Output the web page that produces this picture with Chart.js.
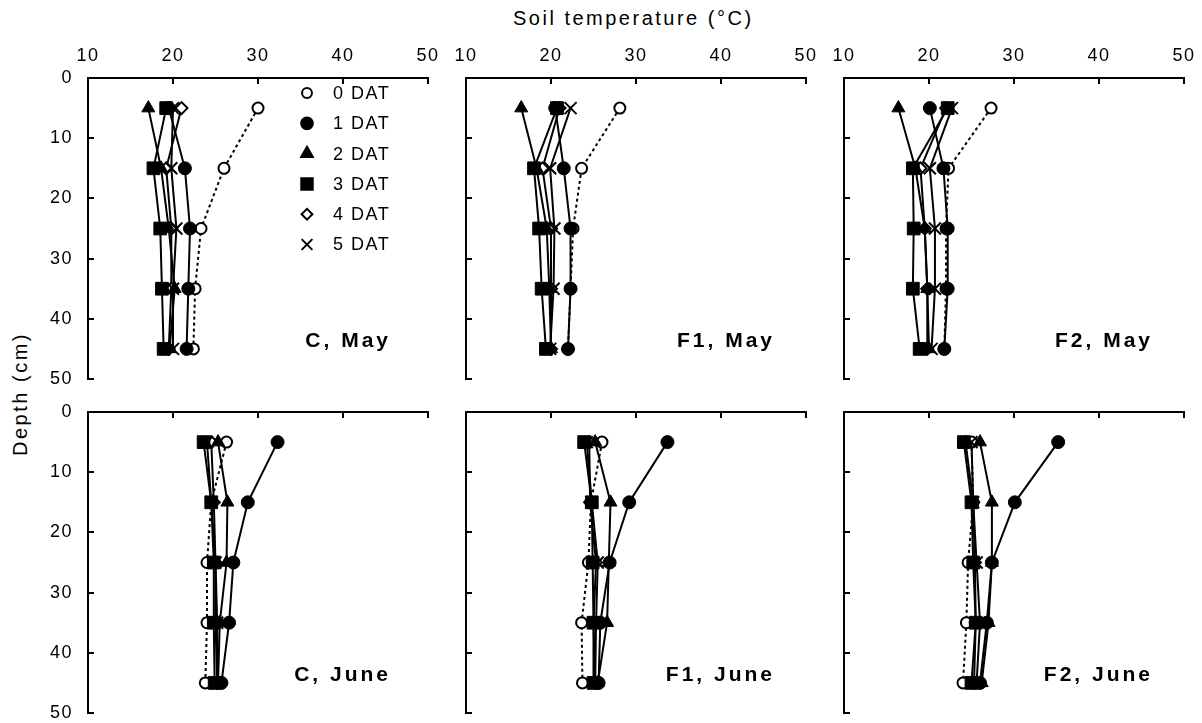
<!DOCTYPE html>
<html>
<head>
<meta charset="utf-8">
<script src="https://cdn.jsdelivr.net/npm/chart.js@4.4.1/dist/chart.umd.min.js"></script>
<style>
  body { margin: 0; background: #fff; }
  #wrap { position: relative; width: 1202px; height: 723px; background: #fff; font-family: "Liberation Sans", Arial, sans-serif; }
  #wrap canvas { position: absolute; }
  .title { position: absolute; font-size: 20px; letter-spacing: 2.5px; color: #000; white-space: nowrap; line-height: 24px; }
  #xTitle { left: 513px; top: 6px; }
  #yTitle { left: 20px; top: 394px; transform: translate(-50%, -50%) rotate(-90deg); }
</style>
</head>
<body>
<div id="wrap">
  <div class="title" id="xTitle">Soil temperature (°C)</div>
  <div class="title" id="yTitle">Depth (cm)</div>
</div>
<script>
// Sampling depths (cm) and axis ticks
const depths = [5, 15, 25, 35, 45];
const xTicks = [10, 20, 30, 40, 50];
const yTicks = [0, 10, 20, 30, 40, 50];
const seriesNames = ['0 DAT', '1 DAT', '2 DAT', '3 DAT', '4 DAT', '5 DAT'];

// Soil temperature (°C) per panel, one row per series (0..5 DAT), one value per depth
const cMay = [
    [30.0, 26.0, 23.3, 22.6, 22.4],
    [19.5, 21.4, 22.0, 21.8, 21.6],
    [17.1, 18.6, 19.5, 20.2, 19.6],
    [19.2, 17.7, 18.5, 18.7, 18.9],
    [21.0, 19.2, 19.8, 19.8, 19.5],
    [20.0, 19.8, 20.4, 20.0, 20.0]
];
const f1May = [
    [28.1, 23.6, 22.6, 22.3, 22.0],
    [20.5, 21.5, 22.3, 22.3, 22.0],
    [16.5, 18.3, 19.5, 19.8, 20.0],
    [20.7, 18.0, 18.6, 18.9, 19.4],
    [21.0, 19.0, 20.0, 20.0, 20.0],
    [22.3, 19.9, 20.4, 20.3, 19.9]
];
const f2May = [
    [27.3, 22.3, 22.0, 22.0, 21.8],
    [20.1, 21.7, 22.2, 22.2, 21.8],
    [16.4, 18.4, 19.5, 19.8, 20.0],
    [22.2, 18.1, 18.2, 18.1, 18.9],
    [22.0, 19.0, 19.5, 19.8, 19.8],
    [22.7, 20.1, 20.7, 20.7, 20.3]
];
const cJune = [
    [26.3, 24.5, 24.0, 24.0, 23.8],
    [32.3, 28.8, 27.1, 26.6, 25.7],
    [25.3, 26.4, 26.3, 25.5, 25.3],
    [23.6, 24.5, 24.8, 24.8, 24.9],
    [24.5, 24.8, 25.0, 25.0, 25.2],
    [24.0, 24.5, 25.0, 25.2, 25.2]
];
const f1June = [
    [26.0, 24.7, 24.4, 23.6, 23.7],
    [33.7, 29.2, 26.9, 25.8, 25.6],
    [25.2, 27.0, 26.8, 26.6, 25.5],
    [23.9, 24.8, 24.9, 25.0, 25.0],
    [24.5, 24.6, 25.3, 25.0, 25.2],
    [24.2, 24.8, 25.5, 25.3, 25.2]
];
const f2June = [
    [25.0, 25.2, 24.6, 24.4, 24.0],
    [35.2, 30.1, 27.4, 26.8, 26.0],
    [26.0, 27.4, 27.4, 27.0, 26.2],
    [24.1, 25.0, 25.2, 25.5, 25.0],
    [24.3, 25.2, 25.4, 25.5, 25.3],
    [25.0, 25.2, 25.6, 26.0, 25.6]
];

// marker style for each series; open markers are drawn underneath the filled ones
const markers = [
    { pointStyle: 'circle', radius: 5.5, fill: '#fff', dash: [3, 3], order: 10 },
    { pointStyle: 'circle', radius: 6.5, fill: '#000', dash: [], order: 4 },
    { pointStyle: 'triangle', radius: 7.5, fill: '#000', dash: [], order: 3 },
    { pointStyle: 'rect', radius: 9, fill: '#000', dash: [], order: 2 },
    { pointStyle: 'rectRot', radius: 6, fill: '#fff', dash: [], order: 9 },
    { pointStyle: 'crossRot', radius: 8.5, fill: '#000', dash: [], order: 1 }
];

const panels = [
    { id: 'cMay', data: cMay, label: 'C, May', left: 88, top: 78, row: 0, col: 0 },
    { id: 'f1May', data: f1May, label: 'F1, May', left: 466, top: 78, row: 0, col: 1 },
    { id: 'f2May', data: f2May, label: 'F2, May', left: 844, top: 78, row: 0, col: 2 },
    { id: 'cJune', data: cJune, label: 'C, June', left: 88, top: 412, row: 1, col: 0 },
    { id: 'f1June', data: f1June, label: 'F1, June', left: 466, top: 412, row: 1, col: 1 },
    { id: 'f2June', data: f2June, label: 'F2, June', left: 844, top: 412, row: 1, col: 2 }
];

const PLOT_W = 340, PLOT_H = 301;
const PAD_L = 70, PAD_T = 50, PAD_R = 20, PAD_B = 15;
const FONT = '"Liberation Sans", Arial, sans-serif';

// the reference text is slightly tracked out
const tracking = {
    id: 'tracking',
    beforeDraw(chart) { chart.ctx.letterSpacing = '1.5px'; }
};

// inward tick marks on the top and left axes
const innerTicks = {
    id: 'innerTicks',
    afterDraw(chart) {
        const { ctx, chartArea: a, scales: { x, y } } = chart;
        ctx.save();
        ctx.strokeStyle = '#000';
        ctx.lineWidth = 2;
        ctx.beginPath();
        xTicks.forEach(v => {
            const px = Math.round(x.getPixelForValue(v));
            ctx.moveTo(px, a.top);
            ctx.lineTo(px, a.top + 6);
        });
        yTicks.forEach(v => {
            const py = Math.round(y.getPixelForValue(v));
            ctx.moveTo(a.left, py);
            ctx.lineTo(a.left + 6, py);
        });
        ctx.stroke();
        ctx.restore();
    }
};

// panel name in the lower right corner
const panelLabel = {
    id: 'panelLabel',
    afterDraw(chart, args, opts) {
        const { ctx, chartArea: a, scales: { y } } = chart;
        ctx.save();
        ctx.letterSpacing = '3px';
        ctx.fillStyle = '#000';
        ctx.font = 'bold 21px ' + FONT;
        ctx.textAlign = 'right';
        ctx.textBaseline = 'middle';
        ctx.fillText(opts.text, a.right - opts.inset + 3, y.getPixelForValue(43.7));
        ctx.restore();
    }
};

// legend inside the first panel
const innerLegend = {
    id: 'innerLegend',
    afterDraw(chart, args, opts) {
        if (!opts.show) return;
        const { ctx, chartArea: a } = chart;
        ctx.save();
        ctx.font = '18px ' + FONT;
        ctx.letterSpacing = '1.5px';
        ctx.textBaseline = 'middle';
        ctx.textAlign = 'left';
        seriesNames.forEach((name, i) => {
            const m = markers[i];
            const cy = a.top + 15 + i * 30.3;
            const cx = a.left + 219;
            ctx.fillStyle = m.fill;
            ctx.strokeStyle = '#000';
            ctx.lineWidth = 2;
            Chart.helpers.drawPoint(ctx, { pointStyle: m.pointStyle, radius: m.radius * 0.9, rotation: 0, borderWidth: 2 }, cx, cy);
            ctx.fillStyle = '#000';
            ctx.fillText(name, a.left + 245, cy + 1);
        });
        ctx.restore();
    }
};

// drop the extra room Chart.js keeps for the end labels
function noLabelPadding(s) {
    s.paddingLeft = 0;
    s.paddingRight = 0;
    s.paddingTop = 0;
    s.paddingBottom = 0;
}

const wrap = document.getElementById('wrap');

panels.forEach(p => {
    const canvas = document.createElement('canvas');
    canvas.id = p.id;
    canvas.width = PAD_L + PLOT_W + PAD_R;
    canvas.height = PAD_T + PLOT_H + PAD_B;
    canvas.style.left = (p.left - PAD_L) + 'px';
    canvas.style.top = (p.top - PAD_T) + 'px';
    canvas.style.width = canvas.width + 'px';
    canvas.style.height = canvas.height + 'px';
    wrap.appendChild(canvas);

    const datasets = p.data.map((temps, i) => {
        const m = markers[i];
        return {
            label: seriesNames[i],
            data: temps.map((t, k) => ({ x: t, y: depths[k] })),
            order: m.order,
            showLine: true,
            borderColor: '#000',
            borderWidth: 2,
            borderDash: m.dash,
            pointStyle: m.pointStyle,
            pointRadius: m.radius,
            pointBackgroundColor: m.fill,
            pointBorderColor: '#000',
            pointBorderWidth: (m.fill === '#fff' || m.pointStyle === 'crossRot') ? 2 : 1
        };
    });

    new Chart(canvas, {
        type: 'scatter',
        data: { datasets },
        options: {
            responsive: false,
            animation: false,
            devicePixelRatio: 1,
            layout: { padding: { left: 0, top: 0, right: PAD_R, bottom: PAD_B } },
            plugins: {
                legend: { display: false },
                tooltip: { enabled: false },
                panelLabel: { text: p.label, inset: p.col === 0 ? 40 : 34 },
                innerLegend: { show: p.row === 0 && p.col === 0 }
            },
            scales: {
                x: {
                    type: 'linear',
                    position: 'top',
                    min: 10,
                    max: 50,
                    afterBuildTicks: s => { s.ticks = xTicks.map(v => ({ value: v })); },
                    afterFit: s => { s.height = PAD_T; noLabelPadding(s); },
                    grid: { display: false, drawTicks: false },
                    border: { display: true, color: '#000', width: 2 },
                    ticks: {
                        display: p.row === 0,
                        color: '#000',
                        padding: 11,
                        maxRotation: 0,
                        font: { family: FONT, size: 18 }
                    }
                },
                y: {
                    type: 'linear',
                    reverse: true,
                    min: 0,
                    max: 50,
                    afterBuildTicks: s => { s.ticks = yTicks.map(v => ({ value: v })); },
                    afterFit: s => { s.width = PAD_L; noLabelPadding(s); },
                    grid: { display: false, drawTicks: false },
                    border: { display: true, color: '#000', width: 2 },
                    ticks: {
                        display: p.col === 0,
                        color: '#000',
                        padding: 15,
                        font: { family: FONT, size: 18 }
                    }
                }
            }
        },
        plugins: [tracking, innerTicks, panelLabel, innerLegend]
    });
});
</script>
</body>
</html>
